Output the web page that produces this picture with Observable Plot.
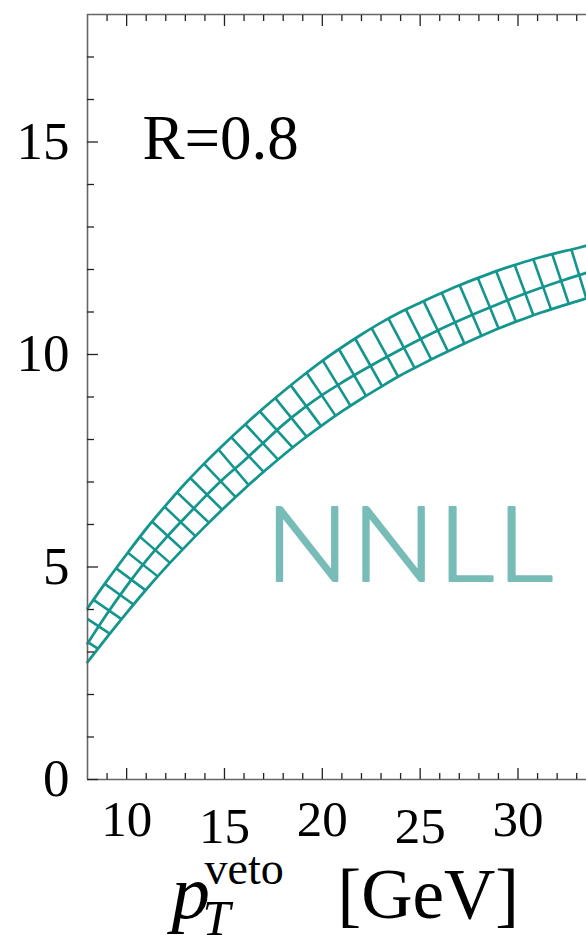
<!DOCTYPE html>
<html><head><meta charset="utf-8">
<script src="https://cdn.jsdelivr.net/npm/d3@7"></script>
<script src="https://cdn.jsdelivr.net/npm/@observablehq/plot@0.6"></script>
<style>
html,body{margin:0;padding:0;background:#fff;}
#chart svg{display:block}
</style></head><body><div id="chart"></div>
<script>
// ---- data ----
const pT      = [8, 9, 10, 11, 12, 13, 14, 15, 16, 17, 18, 19, 20, 21, 22, 23, 24, 25, 26, 27, 28, 29, 30, 31, 32, 33, 33.5];
const upper   = [4.03, 4.68, 5.3, 5.9, 6.45, 6.97, 7.45, 7.9, 8.33, 8.74, 9.13, 9.5, 9.85, 10.17, 10.47, 10.75, 11.0, 11.22, 11.43, 11.63, 11.81, 11.98, 12.13, 12.27, 12.39, 12.5, 12.56];
const central = [3.2, 3.9, 4.55, 5.15, 5.68, 6.17, 6.65, 7.1, 7.5, 7.93, 8.35, 8.72, 9.05, 9.34, 9.61, 9.87, 10.12, 10.36, 10.59, 10.8, 11.0, 11.19, 11.37, 11.54, 11.7, 11.85, 11.92];
const lower   = [2.76, 3.35, 3.92, 4.47, 4.99, 5.48, 5.95, 6.4, 6.83, 7.24, 7.63, 8.0, 8.34, 8.66, 8.96, 9.24, 9.51, 9.75, 9.98, 10.2, 10.41, 10.61, 10.79, 10.96, 11.11, 11.25, 11.32];

const xMajor = [10, 15, 20, 25, 30];
const xMinor = [9, 11, 12, 13, 14, 16, 17, 18, 19, 21, 22, 23, 24, 26, 27, 28, 29, 31, 32, 33];
const yMajor = [0, 5, 10, 15];
const yMinor = [1, 2, 3, 4, 6, 7, 8, 9, 11, 12, 13, 14, 16, 17];
const xLabelsHigh = [10, 20, 30];
const xLabelsLow = [15, 25];
const bandLabel = "NNLL";
const radiusLabel = "R=0.8";

const data = pT.map((x, i) => ({x, lo: lower[i], mid: central[i], hi: upper[i]}));
const teal = "#14968f";
const serif = "'Liberation Serif', 'Times New Roman', serif";
const tickCol = "#222";
const blank = () => "";

const chart = Plot.plot({
  width: 586, height: 935,
  marginLeft: 87, marginRight: 0, marginTop: 14, marginBottom: 156,
  x: {domain: [8, 33.5]},
  y: {domain: [0, 18]},
  style: {background: "#fff", fontFamily: serif, color: "#000"},
  marks: [
    // hatching: a wide dashed stroke along the central curve, clipped to the band
    Plot.line(data, {x: "x", y: "mid", stroke: teal, strokeWidth: 110, strokeDasharray: "2.6 16.4", strokeLinecap: "butt", strokeLinejoin: "miter", curve: "monotone-x"}),
    Plot.areaY(data, {x: "x", y1: "lo", y2: "hi", fill: "none", curve: "monotone-x"}),
    Plot.line(data, {x: "x", y: "hi", stroke: teal, strokeWidth: 2.8, curve: "monotone-x"}),
    Plot.line(data, {x: "x", y: "mid", stroke: teal, strokeWidth: 2.8, curve: "monotone-x"}),
    Plot.line(data, {x: "x", y: "lo", stroke: teal, strokeWidth: 2.8, curve: "monotone-x"}),

    // frame spines
    Plot.ruleX([8], {stroke: "#666", strokeWidth: 1.6}),
    Plot.ruleY([0], {stroke: "#666", strokeWidth: 1.6}),
    Plot.ruleY([18], {stroke: "#666", strokeWidth: 1.6}),

    // inward ticks
    Plot.axisX(xMajor, {anchor: "bottom", tickSize: -11, tickFormat: blank, label: null, stroke: tickCol, strokeWidth: 1.3}),
    Plot.axisX(xMinor, {anchor: "bottom", tickSize: -6, tickFormat: blank, label: null, stroke: tickCol, strokeWidth: 1.3}),
    Plot.axisX(xMajor, {anchor: "top", tickSize: -11, tickFormat: blank, label: null, stroke: tickCol, strokeWidth: 1.3}),
    Plot.axisX(xMinor, {anchor: "top", tickSize: -6, tickFormat: blank, label: null, stroke: tickCol, strokeWidth: 1.3}),
    Plot.axisY(yMajor, {anchor: "left", tickSize: -11, tickFormat: blank, label: null, stroke: tickCol, strokeWidth: 1.3}),
    Plot.axisY(yMinor, {anchor: "left", tickSize: -7, tickFormat: blank, label: null, stroke: tickCol, strokeWidth: 1.3}),

    // tick labels
    Plot.axisY(yMajor, {anchor: "left", tickSize: 0, tickPadding: 18, fontSize: 53, label: null, fill: "#000"}),
    Plot.axisX(xLabelsHigh, {anchor: "bottom", tickSize: 0, tickPadding: 20, fontSize: 51, label: null, fill: "#000"}),
    Plot.axisX(xLabelsLow, {anchor: "bottom", tickSize: 0, tickPadding: 27, fontSize: 51, label: null, fill: "#000"}),

    // annotations
    Plot.text([radiusLabel], {frameAnchor: "top-left", dx: 55, dy: 144, lineAnchor: "bottom", textAnchor: "start", fontSize: 63, fill: "#000", fontFamily: serif}),
    Plot.text([bandLabel], {frameAnchor: "top-left", dx: 178, dy: 566, lineAnchor: "bottom", textAnchor: "start", fontSize: 104, fill: "#78bcb8", stroke: "#78bcb8", strokeWidth: 2.2, fontFamily: "Lato, 'Open Sans', sans-serif", fontWeight: 300}),

    // x-axis title: p_T^veto [GeV]
    Plot.text(["p"], {frameAnchor: "bottom-left", dx: 84, dy: 138, lineAnchor: "bottom", textAnchor: "start", fontSize: 77, fontStyle: "italic", fill: "#000", fontFamily: serif}),
    Plot.text(["T"], {frameAnchor: "bottom-left", dx: 115, dy: 155, lineAnchor: "bottom", textAnchor: "start", fontSize: 50, fontStyle: "italic", fill: "#000", fontFamily: serif}),
    Plot.text(["veto"], {frameAnchor: "bottom-left", dx: 117, dy: 104, lineAnchor: "bottom", textAnchor: "start", fontSize: 46, fill: "#000", fontFamily: serif}),
    Plot.text(["[GeV]"], {frameAnchor: "bottom-left", dx: 250, dy: 138, lineAnchor: "bottom", textAnchor: "start", fontSize: 71, fill: "#000", fontFamily: serif})
  ]
});

// clip the hatching stroke to the band outline
const ns = "http://www.w3.org/2000/svg";
const areaPath = chart.querySelector('g[aria-label="area"] path');
const hatchG = chart.querySelectorAll('g[aria-label="line"]')[0];
if (areaPath && hatchG) {
  const defs = document.createElementNS(ns, "defs");
  const cp = document.createElementNS(ns, "clipPath");
  cp.setAttribute("id", "bandclip");
  const p = document.createElementNS(ns, "path");
  p.setAttribute("d", areaPath.getAttribute("d"));
  cp.appendChild(p);
  defs.appendChild(cp);
  chart.insertBefore(defs, chart.firstChild);
  hatchG.setAttribute("clip-path", "url(#bandclip)");
}
// widen the NNLL lettering slightly to match the geometric face of the original
chart.querySelectorAll('g[aria-label="text"] text').forEach((t) => {
  if (t.textContent === bandLabel) {
    t.setAttribute("transform", t.getAttribute("transform") + " scale(1.06,1)");
    t.setAttribute("letter-spacing", "3");
  }
});
document.getElementById("chart").appendChild(chart);
</script>
</body></html>
